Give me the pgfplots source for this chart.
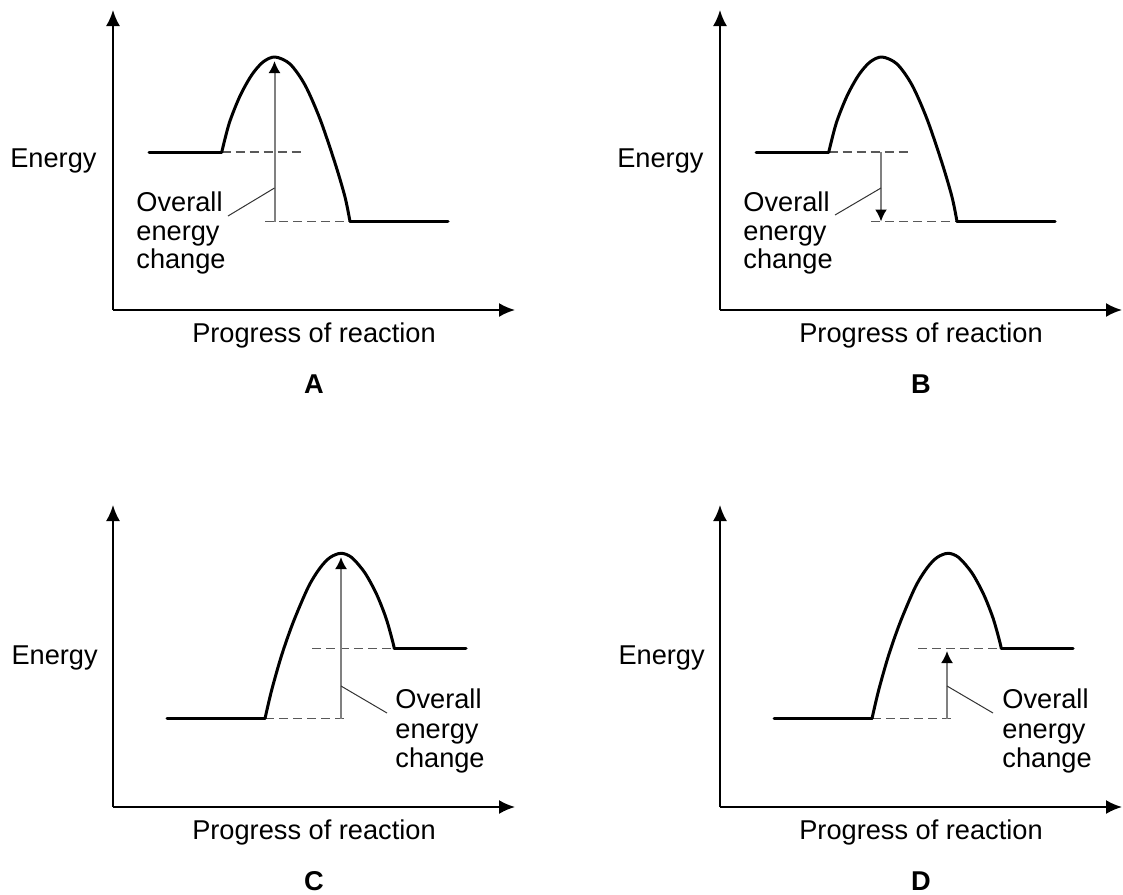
\documentclass[border=0pt]{standalone}
\usepackage{fontspec}
\setmainfont{Liberation Sans}
\usepackage{pgfplots}
\pgfplotsset{compat=1.18}
\usetikzlibrary{arrows.meta}
\newcommand\lab{\fontsize{13.6}{15}\selectfont}

% one data unit = one pixel of the 1123x894 reference (y counted downwards, so negative)
\pgfplotsset{
  energy/.style={
    x=0.5pt, y=0.5pt,
    xmin=113, xmax=515,
    axis lines*=left,
    axis line style={line width=1pt, -{Latex[length=8pt,width=7pt]}},
    xtick=\empty, ytick=\empty,
    clip=false,
    anchor=south west,
    xlabel={Progress of reaction},
    ylabel={Energy},
    every axis x label/.style={at={(axis description cs:0.5,-0.107)}, anchor=base, font=\lab},
    every axis y label/.style={at={(axis description cs:-0.04,0.476)}, anchor=base east, inner xsep=0pt, font=\lab},
    every axis title/.style={at={(axis description cs:0.5,-0.277)}, anchor=base, font=\lab\bfseries},
  },
  top row/.style={ymin=-310, ymax=-10},
  bottom row/.style={ymin=-807, ymax=-505},
  curve/.style={black, line width=1.5pt, line cap=round, line join=round},
  dash/.style={black!65, line width=0.9pt, dash pattern=on 4.5pt off 2.5pt},
  change/.style={black!50, line width=1pt, -{Latex[length=6pt,width=6pt,color=black]}},
  lead/.style={black!80, line width=0.5pt},
}
\tikzset{txt/.style={anchor=base west, inner xsep=0pt, font=\lab}}

\begin{document}
\begin{tikzpicture}
\useasboundingbox (0,0) rectangle (561.5pt,-447pt);

% ---------- A ----------
\begin{axis}[energy, top row, at={(56.5pt,-155pt)}, title={A}]
  \addplot[dash] coordinates {(221.7,-152.3) (304,-152.3)};
  \addplot[dash] coordinates {(265,-221.5) (350,-221.5)};
  \addplot[curve] coordinates {(149,-152.3) (221.7,-152.3)};
  \addplot[curve, smooth] coordinates {
    (221.7,-152.3) (229.3,-123) (240,-96) (251.7,-75) (263,-62) (275,-57)
    (290,-64) (305,-85) (320,-119) (335,-163) (345,-197) (350,-221.5)};
  \addplot[curve] coordinates {(350,-221.5) (448,-221.5)};
  \addplot[change] coordinates {(274.5,-221.5) (274.5,-61)};
  \addplot[lead] coordinates {(228,-216) (274.5,-188)};
  \node[txt] at (axis cs:136,-211) {Overall};
  \node[txt] at (axis cs:136,-240) {energy};
  \node[txt] at (axis cs:136,-268) {change};
\end{axis}

% ---------- B ----------
\begin{axis}[energy, top row, at={(360pt,-155pt)}, title={B}]
  \addplot[dash] coordinates {(221.7,-152.3) (304,-152.3)};
  \addplot[dash] coordinates {(264,-221.5) (350,-221.5)};
  \addplot[curve] coordinates {(149,-152.3) (221.7,-152.3)};
  \addplot[curve, smooth] coordinates {
    (221.7,-152.3) (229.3,-123) (240,-96) (251.7,-75) (263,-62) (275,-57)
    (290,-64) (305,-85) (320,-119) (335,-163) (345,-197) (350,-221.5)};
  \addplot[curve] coordinates {(350,-221.5) (448,-221.5)};
  \addplot[change] coordinates {(274,-152.3) (274,-221.5)};
  \addplot[lead] coordinates {(228,-215) (274,-188)};
  \node[txt] at (axis cs:136,-211) {Overall};
  \node[txt] at (axis cs:136,-240) {energy};
  \node[txt] at (axis cs:136,-268) {change};
\end{axis}

% ---------- C ----------
\begin{axis}[energy, bottom row, at={(56.5pt,-403.5pt)}, title={C},
    every axis y label/.style={at={(axis description cs:-0.037,0.4735)}, anchor=base east, inner xsep=0pt, font=\lab}]
  \addplot[dash] coordinates {(312,-648.5) (394.3,-648.5)};
  \addplot[dash] coordinates {(265,-718.5) (348,-718.5)};
  \addplot[curve] coordinates {(167,-718.5) (265,-718.5)};
  \addplot[curve, smooth] coordinates {
    (265,-718.5) (271.7,-690) (281.7,-655) (293.3,-622) (308.3,-587) (320,-568)
    (330,-557.5) (341,-553.3) (351.7,-557.5) (365,-573) (376.7,-594.5) (386,-618)
    (392.3,-640) (394.3,-648.5)};
  \addplot[curve] coordinates {(394.3,-648.5) (466,-648.5)};
  \addplot[change] coordinates {(341,-718.5) (341,-557)};
  \addplot[lead] coordinates {(341,-686) (387,-713)};
  \node[txt] at (axis cs:395,-708) {Overall};
  \node[txt] at (axis cs:395,-738) {energy};
  \node[txt] at (axis cs:395,-767) {change};
\end{axis}

% ---------- D ----------
\begin{axis}[energy, bottom row, at={(360pt,-403.5pt)}, title={D},
    every axis y label/.style={at={(axis description cs:-0.037,0.4735)}, anchor=base east, inner xsep=0pt, font=\lab}]
  \addplot[dash] coordinates {(311,-648.5) (394.3,-648.5)};
  \addplot[dash] coordinates {(265,-718.5) (348,-718.5)};
  \addplot[curve] coordinates {(167,-718.5) (265,-718.5)};
  \addplot[curve, smooth] coordinates {
    (265,-718.5) (271.7,-690) (281.7,-655) (293.3,-622) (308.3,-587) (320,-568)
    (330,-557.5) (341,-553.3) (351.7,-557.5) (365,-573) (376.7,-594.5) (386,-618)
    (392.3,-640) (394.3,-648.5)};
  \addplot[curve] coordinates {(394.3,-648.5) (466,-648.5)};
  \addplot[change] coordinates {(340,-718.5) (340,-651)};
  \addplot[lead] coordinates {(340,-686) (386,-713)};
  \node[txt] at (axis cs:395,-708) {Overall};
  \node[txt] at (axis cs:395,-738) {energy};
  \node[txt] at (axis cs:395,-767) {change};
\end{axis}
\end{tikzpicture}
\end{document}
